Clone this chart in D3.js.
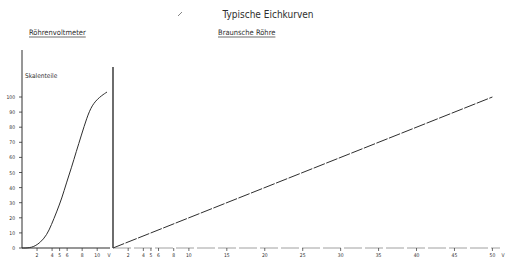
<!DOCTYPE html>
<html>
<head>
<meta charset="utf-8">
<script src="https://cdn.jsdelivr.net/npm/d3@7"></script>
<style>
  body { margin: 0; background: #fff; }
  svg { display: block; }
</style>
</head>
<body>
<svg id="chart" width="506" height="263"></svg>
<script>
// left panel: Röhrenvoltmeter calibration curve (Volt -> Skalenteile)
const tubeVolts = [0, 1.3, 2.4, 3.3, 3.9, 4.6, 5.3, 5.9, 6.6, 7.2, 7.9, 8.6, 9.3, 10.3, 11.3]
const tubeReadings = [0, 0, 3.3, 8.6, 15.2, 23.8, 33, 43, 53.6, 63.6, 74.8, 86, 94.7, 100, 103.3]
// right panel: Braunsche Röhre (linear)
const braunVolts = [0, 50]
const braunReadings = [0, 100]
// tick labels
const yTicks = [0, 10, 20, 30, 40, 50, 60, 70, 80, 90, 100]
const tubeTicks = [2, 4, 5, 6, 8, 10]
const braunTicks = [2, 4, 5, 6, 8, 10, 15, 20, 25, 30, 35, 40, 45, 50]

const ink = '#2e2e2e'
const font = "'DejaVu Sans Condensed', 'Liberation Sans', sans-serif"

const svg = d3.select('#chart')

const y = d3.scaleLinear().domain([0, 100]).range([248, 97])
const xLeft = d3.scaleLinear().domain([0, 11.7]).range([22, 110])
const xRight = d3.scaleLinear().domain([0, 51]).range([113, 500])

// title + panel headings
svg.append('text')
  .attr('x', 268).attr('y', 18)
  .attr('text-anchor', 'middle')
  .attr('font-family', font).attr('font-size', 10)
  .attr('fill', ink)
  .text('Typische Eichkurven')

svg.append('path')
  .attr('d', 'M178,16 L182,12')
  .attr('stroke', '#666').attr('stroke-width', 0.8)

const headings = [
  { text: 'Röhrenvoltmeter', x: 29, y: 35 },
  { text: 'Braunsche Röhre', x: 218, y: 35 },
]
headings.forEach((h) => {
  const t = svg.append('text')
    .attr('x', h.x).attr('y', h.y)
    .attr('font-family', font).attr('font-size', 7.5)
    .attr('fill', ink)
    .text(h.text)
  const w = t.node().getComputedTextLength()
  svg.append('line')
    .attr('x1', h.x).attr('x2', h.x + w)
    .attr('y1', h.y + 2).attr('y2', h.y + 2)
    .attr('stroke', ink).attr('stroke-width', 0.7)
})

svg.append('text')
  .attr('x', 25).attr('y', 78)
  .attr('font-family', font).attr('font-size', 6.5)
  .attr('fill', ink)
  .text('Skalenteile')

// axes lines
svg.append('line')
  .attr('x1', xLeft(0)).attr('x2', xLeft(0))
  .attr('y1', 50).attr('y2', y(0))
  .attr('stroke', ink).attr('stroke-width', 1)
svg.append('line')
  .attr('x1', xLeft(0)).attr('x2', xLeft(11.7))
  .attr('y1', y(0)).attr('y2', y(0))
  .attr('stroke', ink).attr('stroke-width', 1)
svg.append('line')
  .attr('x1', xRight(0)).attr('x2', xRight(0))
  .attr('y1', 67).attr('y2', y(0))
  .attr('stroke', ink).attr('stroke-width', 1.4)
svg.append('line')
  .attr('x1', xRight(0)).attr('x2', xRight(51))
  .attr('y1', y(0)).attr('y2', y(0))
  .attr('stroke', '#888').attr('stroke-width', 0.8)
  .attr('stroke-dasharray', '18,3')

// y ticks
const yAxis = svg.append('g').attr('font-family', font).attr('font-size', 5).attr('fill', ink)
yTicks.forEach((v) => {
  yAxis.append('line')
    .attr('x1', xLeft(0) - 3).attr('x2', xLeft(0))
    .attr('y1', y(v)).attr('y2', y(v))
    .attr('stroke', ink).attr('stroke-width', 0.8)
  yAxis.append('text')
    .attr('x', 15).attr('y', y(v) + 2)
    .attr('text-anchor', 'end')
    .text(v)
})

// x ticks
function xTicks(scale, ticks, unitX) {
  const g = svg.append('g').attr('font-family', font).attr('font-size', 5).attr('fill', ink)
  ticks.forEach((v) => {
    g.append('line')
      .attr('x1', scale(v)).attr('x2', scale(v))
      .attr('y1', y(0)).attr('y2', y(0) + 3)
      .attr('stroke', ink).attr('stroke-width', 0.7)
    g.append('text')
      .attr('x', scale(v)).attr('y', y(0) + 9)
      .attr('text-anchor', 'middle')
      .text(v)
  })
  g.append('text')
    .attr('x', unitX).attr('y', y(0) + 9)
    .attr('text-anchor', 'middle')
    .text('V')
}
xTicks(xLeft, tubeTicks, 109)
xTicks(xRight, braunTicks, 503)

// curves
const tubeLine = d3.line()
  .x((d) => xLeft(d[0]))
  .y((d) => y(d[1]))
  .curve(d3.curveBasis)
svg.append('path')
  .datum(d3.zip(tubeVolts, tubeReadings))
  .attr('d', tubeLine)
  .attr('fill', 'none')
  .attr('stroke', ink).attr('stroke-width', 1)

const braunLine = d3.line()
  .x((d) => xRight(d[0]))
  .y((d) => y(d[1]))
svg.append('path')
  .datum(d3.zip(braunVolts, braunReadings))
  .attr('d', braunLine)
  .attr('fill', 'none')
  .attr('stroke', ink).attr('stroke-width', 1)
  .attr('stroke-dasharray', '12,1.5')
</script>
</body>
</html>
